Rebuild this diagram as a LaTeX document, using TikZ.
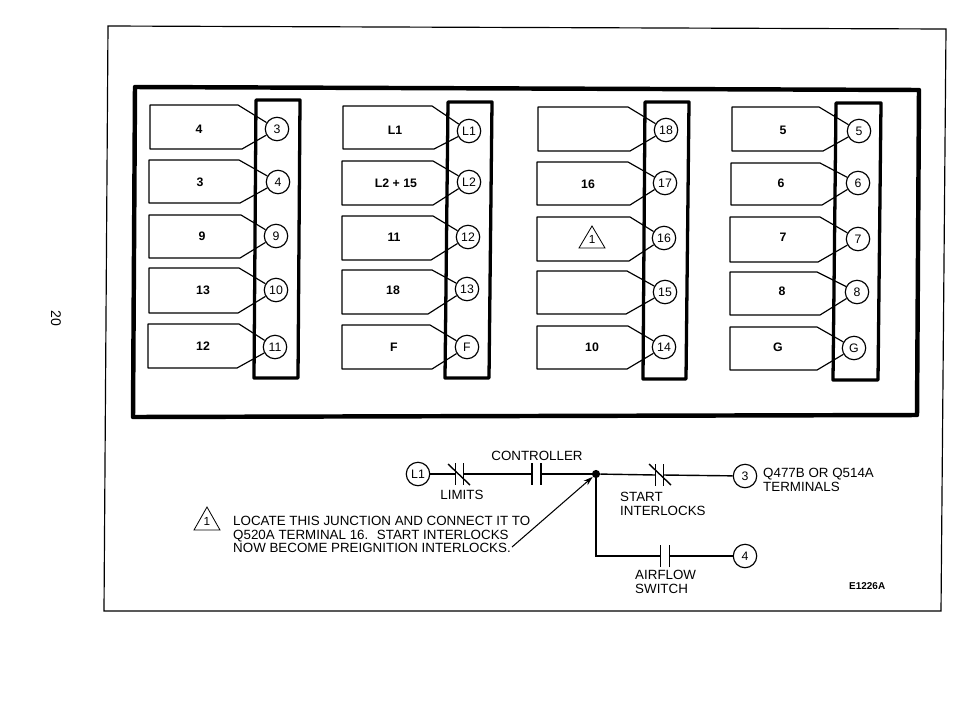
\documentclass[tikz,border=0pt]{standalone}
\usepackage{fontspec}
\setmainfont{Liberation Sans}
\usetikzlibrary{arrows.meta}
\tikzset{
  term/.style={circle,draw,fill=white,line width=1pt,minimum size=20pt,inner sep=0pt,font=\fontsize{10.5}{11}\selectfont},
  word/.style={inner sep=0pt,font=\fontsize{10.5}{12}\selectfont\bfseries},
  tagline/.style={line width=1pt,line join=round},
  bar/.style={line width=2.8pt,line join=round},
  wire/.style={line width=1.2pt},
  contact/.style={inner sep=0pt,minimum height=18pt},
  caption/.style={inner sep=0pt,align=left,font=\fontsize{11.4}{11.6}\selectfont}
}
\begin{document}
\begin{tikzpicture}[x=0.03cm,y=-0.03cm]
\useasboundingbox (0,0) rectangle (954,717);

% sheet
\draw[line width=1pt] (108,26) -- (946,29) -- (941,611) -- (104,611) -- cycle;
\node (page) [inner sep=0pt,rotate=-90,font=\fontsize{12}{12}\selectfont] at (56,318) {20};

% panel
\draw[line width=3.8pt,line join=round] (135,87) -- (919,90) -- (917,415) -- (133,417) -- cycle;

% bars
\draw[bar] (256,100) -- (300,100) -- (298,378) -- (254,378) -- cycle;
\draw[bar] (448,102) -- (492,102) -- (489,378) -- (445,378) -- cycle;
\draw[bar] (645,102) -- (689,102) -- (686,379) -- (643,379) -- cycle;
\draw[bar] (836,103) -- (881,103) -- (878,380) -- (833,380) -- cycle;

% first column
\node (t3) [term] at (277,129) {3};
\node (w3) [word] at (199,129) {4};
\draw[tagline] (t3) -- (238,105) -- (150,105) -- (150,149) -- (242,149) -- (t3);
\node (t4) [term] at (278,182) {4};
\node (w4) [word] at (200,182) {3};
\draw[tagline] (t4) -- (239,160) -- (149,160) -- (149,203) -- (240,203) -- (t4);
\node (t9) [term] at (276,236) {9};
\node (w9) [word] at (202,236) {9};
\draw[tagline] (t9) -- (241,215) -- (149,215) -- (149,258) -- (240,258) -- (t9);
\node (t10) [term] at (276,290) {10};
\node (w10) [word] at (203,290) {13};
\draw[tagline] (t10) -- (239,268) -- (149,268) -- (149,313) -- (238,313) -- (t10);
\node (t11) [term] at (275,347) {11};
\node (w11) [word] at (203,346) {12};
\draw[tagline] (t11) -- (239,324) -- (148,324) -- (148,368) -- (237,368) -- (t11);

% second column
\node (tl1) [term] at (469,131) {L1};
\node (wl1) [word] at (395,130) {L1};
\draw[tagline] (tl1) -- (432,106) -- (343,106) -- (343,149) -- (434,149) -- (tl1);
\node (tl2) [term] at (469,182) {L2};
\node (wl2) [word] at (396,183) {L2 + 15};
\draw[tagline] (tl2) -- (433,161) -- (342,161) -- (342,205) -- (433,205) -- (tl2);
\node (t12) [term] at (468,237) {12};
\node (w12) [word] at (394,237) {11};
\draw[tagline] (t12) -- (433,216) -- (342,216) -- (342,260) -- (431,260) -- (t12);
\node (t13) [term] at (467,289) {13};
\node (w13) [word] at (393,290) {18};
\draw[tagline] (t13) -- (432,270) -- (342,270) -- (342,314) -- (428,314) -- (t13);
\node (tf) [term] at (467,347) {F};
\node (wf) [word] at (394,347) {F};
\draw[tagline] (tf) -- (430,325) -- (342,325) -- (342,369) -- (432,369) -- (tf);

% third column
\node (t18) [term] at (666,130) {18};
\draw[tagline] (t18) -- (628,107) -- (538,107) -- (538,151) -- (630,151) -- (t18);
\node (t17) [term] at (665,183) {17};
\node (w17) [word] at (588,184) {16};
\draw[tagline] (t17) -- (628,162) -- (537,162) -- (537,205) -- (630,205) -- (t17);
\node (t16) [term] at (664,238) {16};
\draw[tagline] (t16) -- (630,217) -- (537,217) -- (537,261) -- (629,261) -- (t16);
\node (mark) [inner sep=0pt,font=\fontsize{10}{10}\selectfont] at (592,239) {1};
\draw[line width=0.7pt] (592,226) -- (605,248) -- (579,248) -- cycle;
\node (t15) [term] at (665,292) {15};
\draw[tagline] (t15) -- (627,271) -- (537,271) -- (537,314) -- (626,314) -- (t15);
\node (t14) [term] at (664,347) {14};
\node (w14) [word] at (592,347) {10};
\draw[tagline] (t14) -- (628,326) -- (537,326) -- (537,369) -- (627,369) -- (t14);

% fourth column
\node (t5) [term] at (859,131) {5};
\node (w5) [word] at (783,130) {5};
\draw[tagline] (t5) -- (819,107) -- (732,107) -- (732,151) -- (823,151) -- (t5);
\node (t6) [term] at (858,183) {6};
\node (w6) [word] at (781,183) {6};
\draw[tagline] (t6) -- (820,163) -- (731,163) -- (731,205) -- (822,205) -- (t6);
\node (t7) [term] at (858,239) {7};
\node (w7) [word] at (783,237) {7};
\draw[tagline] (t7) -- (820,217) -- (730,217) -- (730,262) -- (818,262) -- (t7);
\node (t8) [term] at (857,292) {8};
\node (w8) [word] at (782,291) {8};
\draw[tagline] (t8) -- (817,272) -- (730,272) -- (730,315) -- (820,315) -- (t8);
\node (tg) [term] at (854,348) {G};
\node (wg) [word] at (778,347) {G};
\draw[tagline] (tg) -- (817,327) -- (730,327) -- (730,370) -- (817,370) -- (tg);

% circuit
\node (sl1) [term] at (418,474) {L1};
\node (s3) [term] at (745,476) {3};
\node (s4) [term] at (745,556) {4};
\node (limits) [contact,minimum width=6pt] at (459.5,474) {};
\node (ctrl) [contact,minimum width=7pt] at (536.5,474) {};
\node (start) [contact,minimum width=6pt] at (659.5,475) {};
\node (air) [contact,minimum width=7pt] at (665,556) {};
\node (junction) [circle,fill,inner sep=0pt,minimum size=7pt] at (596,474) {};
\coordinate (corner) at (596,556);
\draw[wire] (sl1) -- (limits.west);
\draw[wire] (limits.east) -- (ctrl.west);
\draw[wire] (ctrl.east) -- (junction);
\draw[wire] (junction) -- (start.west);
\draw[wire] (start.east) -- (s3);
\draw[wire] (junction) -- (corner) -- (air.west);
\draw[wire] (air.east) -- (s4);

% contacts
\draw[wire] (limits.north west) -- (limits.south west) (limits.north east) -- (limits.south east);
\draw[wire] (448,464) -- (470,485);
\draw[wire] (ctrl.north west) -- (ctrl.south west) (ctrl.north east) -- (ctrl.south east);
\draw[wire] (start.north west) -- (start.south west) (start.north east) -- (start.south east);
\draw[wire] (649,464) -- (671,485);
\draw[wire] (air.north west) -- (air.south west) (air.north east) -- (air.south east);

% labels
\node (lctrl) [caption] at (537,456) {CONTROLLER};
\node (llimits) [caption] at (462,495) {LIMITS};
\node (lstart) [caption,anchor=north west] at (620,492) {START\\INTERLOCKS};
\node (lair) [caption,anchor=north west] at (635,570) {AIRFLOW\\SWITCH};
\node (lterm) [caption,anchor=north west] at (763,468) {Q477B OR Q514A\\TERMINALS};
\node (code) [inner sep=0pt,anchor=west,font=\fontsize{8.5}{10}\selectfont\bfseries] at (849,586) {E1226A};

% note
\draw[line width=0.7pt] (207,507) -- (220,530) -- (194,530) -- cycle;
\node (notemark) [inner sep=0pt,font=\fontsize{10}{10}\selectfont] at (207,521) {1};
\node (note) [caption,anchor=north west] at (233,516) {LOCATE THIS JUNCTION AND CONNECT IT TO\\Q520A TERMINAL 16.~ START INTERLOCKS\\NOW BECOME PREIGNITION INTERLOCKS.};
\coordinate (noteend) at (512,547);
\draw[line width=0.9pt,-{Stealth[length=8pt,width=5pt]}] (noteend) -- (junction);

\end{tikzpicture}
\end{document}
